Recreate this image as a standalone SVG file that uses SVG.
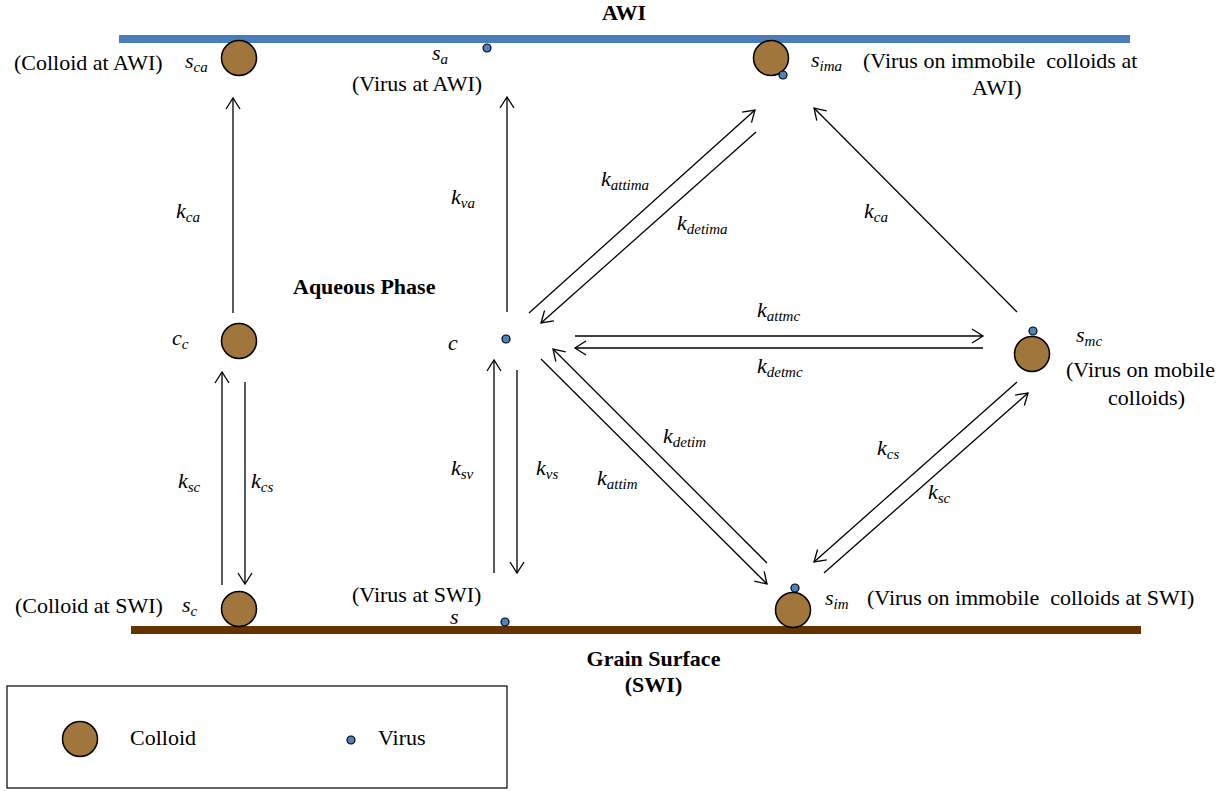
<svg xmlns="http://www.w3.org/2000/svg" width="1226" height="791" viewBox="0 0 1226 791">
<style>
text{font-family:"Liberation Serif","Times New Roman",serif;fill:#000}
.t{font-size:22px}
.b{font-size:22px;font-weight:bold}
.i{font-size:22px;font-style:italic}
.sub{font-size:15px}
.col{fill:#A0763D;stroke:#000;stroke-width:1.5}
.vir{fill:#4F81BD;stroke:#000;stroke-width:1.2}
.ln{stroke:#000;stroke-width:1.3;fill:none}
.arr{marker-end:url(#ah)}
</style>
<defs>
<marker id="ah" markerUnits="userSpaceOnUse" markerWidth="14" markerHeight="16" refX="11" refY="7" orient="auto" overflow="visible">
<path d="M0,0 L11,7 L0,14" fill="none" stroke="#000" stroke-width="1.3"/>
</marker>
</defs>
<rect width="1226" height="791" fill="#fff"/>

<g id="surfaces">
<rect x="119" y="35" width="1011" height="8" fill="#4A7EBB"/>
<rect x="131" y="626" width="1010" height="8" fill="#663300"/>
<text class="b" x="624" y="20" text-anchor="middle">AWI</text>
<text class="b" x="293" y="294">Aqueous Phase</text>
<text class="b" x="653.5" y="666" text-anchor="middle">Grain Surface</text>
<text class="b" x="653.5" y="692" text-anchor="middle">(SWI)</text>
</g>

<g id="node-sca">
<circle class="col" cx="239" cy="58" r="17.5"/>
<text class="t" x="14" y="70">(Colloid at AWI)</text>
<text class="i" x="185" y="68">s<tspan class="sub" dy="4">ca</tspan></text>
</g>

<g id="node-sa">
<circle class="vir" cx="487" cy="48" r="4"/>
<text class="i" x="432" y="60">s<tspan class="sub" dy="4">a</tspan></text>
<text class="t" x="352" y="91">(Virus at AWI)</text>
</g>

<g id="node-sima">
<circle class="col" cx="771" cy="58" r="17.5"/>
<circle class="vir" cx="783" cy="75" r="4"/>
<text class="i" x="811" y="67">s<tspan class="sub" dy="4">ima</tspan></text>
<text class="t" x="863" y="68">(Virus on immobile&#160; colloids at</text>
<text class="t" x="972" y="95">AWI)</text>
</g>

<g id="node-cc">
<circle class="col" cx="239" cy="341" r="17.5"/>
<text class="i" x="172" y="345">c<tspan class="sub" dy="4">c</tspan></text>
</g>

<g id="node-c">
<circle class="vir" cx="506" cy="339" r="4"/>
<text class="i" x="448" y="350">c</text>
</g>

<g id="node-smc">
<circle class="col" cx="1032" cy="354" r="17.5"/>
<circle class="vir" cx="1033" cy="331" r="4"/>
<text class="i" x="1076" y="342">s<tspan class="sub" dy="4">mc</tspan></text>
<text class="t" x="1066" y="377">(Virus on mobile</text>
<text class="t" x="1108" y="405">colloids)</text>
</g>

<g id="node-sc">
<circle class="col" cx="239" cy="609" r="17.5"/>
<text class="t" x="15" y="613">(Colloid at SWI)</text>
<text class="i" x="182" y="612">s<tspan class="sub" dy="4">c</tspan></text>
</g>

<g id="node-s">
<circle class="vir" cx="505" cy="622" r="4"/>
<text class="t" x="352" y="602">(Virus at SWI)</text>
<text class="i" x="450" y="624">s</text>
</g>

<g id="node-sim">
<circle class="col" cx="793" cy="610" r="17.5"/>
<circle class="vir" cx="795" cy="588" r="4"/>
<text class="i" x="825" y="605">s<tspan class="sub" dy="4">im</tspan></text>
<text class="t" x="867" y="605">(Virus on immobile&#160; colloids at SWI)</text>
</g>

<g id="connectors">
<line class="ln arr" x1="233" y1="313" x2="233" y2="98"/>
<line class="ln arr" x1="507" y1="312" x2="507" y2="97"/>
<line class="ln arr" x1="222" y1="585" x2="222" y2="372"/>
<line class="ln arr" x1="245" y1="382" x2="245" y2="584"/>
<line class="ln arr" x1="494" y1="573" x2="494" y2="360"/>
<line class="ln arr" x1="517" y1="370" x2="517" y2="573"/>
<line class="ln arr" x1="529" y1="313" x2="755" y2="110"/>
<line class="ln arr" x1="756" y1="132" x2="541" y2="323"/>
<line class="ln arr" x1="575" y1="336" x2="983" y2="336"/>
<line class="ln arr" x1="983" y1="348" x2="575" y2="348"/>
<line class="ln arr" x1="767" y1="563" x2="553" y2="349"/>
<line class="ln arr" x1="541" y1="359" x2="767" y2="584"/>
<line class="ln arr" x1="1017" y1="312" x2="814" y2="108"/>
<line class="ln arr" x1="1017" y1="382" x2="814" y2="562"/>
<line class="ln arr" x1="824" y1="573" x2="1028" y2="393"/>
</g>

<g id="rate-labels">
<text class="i" x="176" y="218">k<tspan class="sub" dy="4">ca</tspan></text>
<text class="i" x="451" y="204">k<tspan class="sub" dy="4">va</tspan></text>
<text class="i" x="601" y="186">k<tspan class="sub" dy="4">attima</tspan></text>
<text class="i" x="677" y="230">k<tspan class="sub" dy="4">detima</tspan></text>
<text class="i" x="864" y="218">k<tspan class="sub" dy="4">ca</tspan></text>
<text class="i" x="757" y="317">k<tspan class="sub" dy="4">attmc</tspan></text>
<text class="i" x="757" y="373">k<tspan class="sub" dy="4">detmc</tspan></text>
<text class="i" x="178" y="488">k<tspan class="sub" dy="4">sc</tspan></text>
<text class="i" x="251" y="488">k<tspan class="sub" dy="4">cs</tspan></text>
<text class="i" x="451" y="475">k<tspan class="sub" dy="4">sv</tspan></text>
<text class="i" x="536" y="475">k<tspan class="sub" dy="4">vs</tspan></text>
<text class="i" x="663" y="443">k<tspan class="sub" dy="4">detim</tspan></text>
<text class="i" x="597" y="485">k<tspan class="sub" dy="4">attim</tspan></text>
<text class="i" x="877" y="455">k<tspan class="sub" dy="4">cs</tspan></text>
<text class="i" x="928" y="499">k<tspan class="sub" dy="4">sc</tspan></text>
</g>

<g id="legend">
<rect x="7" y="686" width="500" height="102" fill="none" stroke="#000" stroke-width="1.2"/>
<circle class="col" cx="80" cy="739" r="17.5"/>
<text class="t" x="130" y="745">Colloid</text>
<circle class="vir" cx="351" cy="740" r="4"/>
<text class="t" x="378" y="745">Virus</text>
</g>
</svg>
